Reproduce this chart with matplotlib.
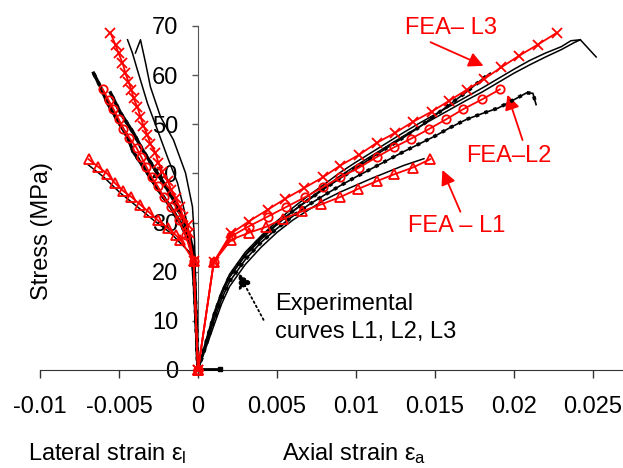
import matplotlib
matplotlib.use("Agg")
import matplotlib.pyplot as plt

plt.rcParams['font.family'] = ['Liberation Sans', 'DejaVu Sans']
plt.rcParams['mathtext.default'] = 'regular'

# ---- data (strain, stress in MPa) ----
# FEA curves, axial side
fea_l3_ax_x = [0, 0.001, 0.0021, 0.0032, 0.0044, 0.0055, 0.0067, 0.0079, 0.0090, 0.0102, 0.0113,
               0.0125, 0.0136, 0.0148, 0.0159, 0.0170, 0.0181, 0.0192, 0.0203, 0.0215, 0.0227]
fea_l3_ax_y = [0, 22, 27.8, 30.2, 32.6, 34.8, 37, 39.2, 41.6, 43.8, 46.2,
               48.3, 50.5, 52.6, 54.8, 57, 59.2, 61.6, 63.9, 66.2, 68.6]
fea_l2_ax_x = [0, 0.001, 0.0021, 0.0032, 0.0044, 0.0056, 0.0068, 0.0079, 0.0090, 0.0102, 0.0113,
               0.0124, 0.0135, 0.0146, 0.0157, 0.0168, 0.0180, 0.0191]
fea_l2_ax_y = [0, 22, 27.2, 29.2, 31.2, 33.2, 35.2, 37.2, 39.2, 41.2, 43.3,
               45.3, 47.1, 49, 51, 53.1, 55.1, 57.1]
fea_l1_ax_x = [0, 0.001, 0.0021, 0.0032, 0.0043, 0.0054, 0.0066, 0.0078, 0.0090, 0.0101, 0.0113,
               0.0124, 0.0136, 0.0147]
fea_l1_ax_y = [0, 22, 26.5, 27.9, 29.1, 30.8, 32.3, 33.7, 35.2, 36.8, 38.4, 39.8, 41.2, 42.9]

# FEA curves, lateral side
fea_l3_lat_x = [0, -0.00028, -0.0006, -0.00066, -0.00092, -0.00117, -0.00142, -0.00168, -0.00193,
                -0.00225, -0.0025, -0.00269, -0.00301, -0.0032, -0.00345, -0.00364, -0.00383,
                -0.00408, -0.00421, -0.0044, -0.00459, -0.00478, -0.00503, -0.00522, -0.00554]
fea_l3_lat_y = [0, 22.2, 27.9, 29.5, 31.1, 33.2, 35, 36.6, 38.5, 40.3, 42.1, 44.2, 46, 47.8, 49.7,
                51.5, 53.5, 55.3, 57, 58.6, 60.4, 62.5, 64.5, 66.1, 68.6]
fea_l2_lat_x = [0, -0.00028, -0.00079, -0.00123, -0.00174, -0.00218, -0.00256, -0.00294, -0.00326,
                -0.00358, -0.00389, -0.00434, -0.00472, -0.00503, -0.00535, -0.00566, -0.00604]
fea_l2_lat_y = [0, 22.2, 27.5, 30.5, 33.2, 35.2, 37.4, 39.3, 41.3, 43.3, 45.2, 47.2, 49, 51.1,
                53.1, 54.9, 57.2]
fea_l1_lat_x = [0, -0.00028, -0.00111, -0.00142, -0.00193, -0.00256, -0.00313, -0.00364, -0.00421,
                -0.00472, -0.00528, -0.00573, -0.0063, -0.00693]
fea_l1_lat_y = [0, 22.2, 26.5, 27.5, 28.9, 30.5, 32.2, 33.6, 35.2, 36.4, 38.1, 39.9, 41.3, 42.9]

# experimental curves, axial side
exp_ax_a_x = [0, 0.0005, 0.001, 0.0015, 0.002, 0.003, 0.004, 0.005, 0.006, 0.007, 0.008, 0.009,
              0.010, 0.011, 0.012, 0.013, 0.014, 0.015, 0.016, 0.017, 0.018, 0.019, 0.020, 0.021,
              0.022, 0.023, 0.0236, 0.0242, 0.0252]
exp_ax_a_y = [0, 6, 11.5, 16, 19.5, 24, 27.3, 30.3, 33, 35.5, 37.8, 40.2, 42.3, 44.3, 46.3, 48.3,
              50.2, 52, 53.8, 55.6, 57.4, 59.3, 61.2, 63, 64.5, 65.8, 67, 67.2, 63.7]
exp_ax_b_x = [0, 0.0005, 0.001, 0.0015, 0.002, 0.003, 0.004, 0.005, 0.006, 0.007, 0.008, 0.009,
              0.010, 0.011, 0.012, 0.013, 0.014, 0.015, 0.016, 0.017, 0.018, 0.019, 0.020, 0.021,
              0.022, 0.023, 0.0238, 0.0242]
exp_ax_b_y = [0, 5.6, 11, 15.4, 18.9, 23.3, 26.6, 29.6, 32.3, 34.8, 37.1, 39.5, 41.6, 43.6, 45.6,
              47.6, 49.5, 51.3, 53.1, 54.9, 56.6, 58.5, 60.4, 62.1, 63.7, 65.2, 66.6, 67.2]
exp_ax_dot1_x = [0, 0.0005, 0.001, 0.0015, 0.002, 0.003, 0.004, 0.005, 0.006, 0.007, 0.008, 0.009,
                 0.010, 0.011, 0.012, 0.013, 0.014, 0.015, 0.016, 0.017, 0.018, 0.0185]
exp_ax_dot1_y = [0, 5.5, 11, 15.5, 19, 23.5, 27, 29.8, 32.3, 34.6, 36.9, 39, 41.1, 43.2, 45.3,
                 47.3, 49.4, 51.8, 54.2, 56.6, 59.2, 60.4]
exp_ax_dot2_x = [0, 0.0005, 0.001, 0.0015, 0.002, 0.003, 0.004, 0.005, 0.006, 0.007, 0.008, 0.009,
                 0.010, 0.011, 0.012, 0.013, 0.014, 0.015, 0.016, 0.017, 0.018, 0.019, 0.020,
                 0.0208, 0.0212, 0.0214]
exp_ax_dot2_y = [0, 5, 10, 14.5, 18, 22.5, 26, 28.8, 31.3, 33.6, 35.6, 37.5, 39.3, 41, 42.7, 44.4,
                 46, 47.6, 49.4, 51, 52.2, 53.3, 55, 56.4, 56.3, 54]
exp_ax_l1_x = [0, 0.0005, 0.001, 0.0015, 0.002, 0.003, 0.004, 0.005, 0.006, 0.007, 0.008, 0.009,
               0.010, 0.011, 0.012, 0.013, 0.0143]
exp_ax_l1_y = [0, 4.5, 9, 13.5, 17, 21.5, 25, 28, 30.5, 32.6, 34.6, 36.2, 37.6, 39, 40.3, 41.6, 43]
exp_tail_x = [0, 0.0014]
exp_tail_y = [0.3, 0.3]

# experimental curves, lateral side
exp_lat_a_x = [0, -0.0001, -0.00022, -0.00035, -0.0006, -0.00111, -0.00174, -0.0025, -0.0032,
               -0.0041, -0.00446, -0.0051, -0.00573, -0.00617, -0.00661]
exp_lat_a_y = [0, 8.1, 16.3, 23.8, 26.5, 29.9, 33.2, 36.6, 40.1, 44.4, 47.4, 50.9, 54.3, 57.6, 60.4]
exp_lat_b_x = [0, -0.00016, -0.00028, -0.00047, -0.00092, -0.00155, -0.00218, -0.00282, -0.00351,
               -0.00408, -0.0049, -0.00554]
exp_lat_b_y = [0, 14.2, 23.4, 26.5, 30.5, 34.6, 38.1, 41.3, 44.8, 48.2, 52.3, 56.4]
exp_lat_l1_x = [0, -0.0001, -0.00028, -0.00047, -0.00111, -0.00174, -0.00282, -0.00383, -0.00491,
                -0.00598, -0.00693]
exp_lat_l1_y = [0, 8.1, 18.3, 23.8, 25.8, 27.9, 30.5, 33.2, 36, 39.3, 41.7]
exp_lat_r_x = [0, -0.0001, -0.00016, -0.00022, -0.00035, -0.00079, -0.00155, -0.00237, -0.00301,
               -0.00332, -0.00364, -0.00396]
exp_lat_r_y = [0, 8.1, 18.3, 26.5, 33.2, 40.1, 46.8, 51.5, 57.6, 62.5, 67.2, 64.5]
exp_lat_l_x = [0, -0.00022, -0.00035, -0.0006, -0.00092, -0.0013, -0.00193, -0.00256, -0.0032,
               -0.00383, -0.00415, -0.00446]
exp_lat_l_y = [0, 16.3, 24.4, 28.5, 33.2, 38.1, 43.3, 48.8, 54.3, 61, 64.5, 67.2]

xticks = [-0.01, -0.005, 0, 0.005, 0.01, 0.015, 0.02, 0.025]
xtick_labels = ['-0.01', '-0.005', '0', '0.005', '0.01', '0.015', '0.02', '0.025']
yticks = [0, 10, 20, 30, 40, 50, 60, 70]

FS = 17
W, H = 623, 468
fig = plt.figure(figsize=(W / 100, H / 100), dpi=100)
ax = fig.add_axes([40 / W, 98 / H, 583 / W, 344 / H])
ax.set_xlim(-0.01, 0.0269)
ax.set_ylim(0, 70)

# experimental (black)
thin = dict(color='black', lw=1.1, zorder=2, clip_on=False)
for xs, ys in [(exp_ax_a_x, exp_ax_a_y), (exp_ax_b_x, exp_ax_b_y), (exp_ax_l1_x, exp_ax_l1_y),
               (exp_lat_l1_x, exp_lat_l1_y), (exp_lat_r_x, exp_lat_r_y), (exp_lat_l_x, exp_lat_l_y)]:
    ax.plot(xs, ys, **thin)

for xs, ys, w in [(exp_ax_dot1_x, exp_ax_dot1_y, 1.2), (exp_ax_dot2_x, exp_ax_dot2_y, 1.2),
                  (exp_lat_a_x, exp_lat_a_y, 2.4), (exp_lat_b_x, exp_lat_b_y, 2.4)]:
    ax.plot(xs, ys, color='black', lw=w, zorder=2)
    ax.plot(xs, ys, color='black', lw=2.6, ls=(0, (1, 1.6)), dash_capstyle='butt', zorder=4)
ax.plot(exp_tail_x, exp_tail_y, color='black', lw=2, marker='s', ms=3, markevery=[1],
        zorder=4, clip_on=False)

# FEA (red)
red = dict(color='red', lw=1.3, mew=1.3, zorder=5, clip_on=False)
for xs, ys in [(fea_l3_ax_x, fea_l3_ax_y), (fea_l3_lat_x, fea_l3_lat_y)]:
    ax.plot(xs, ys, marker='x', ms=7, **red)
for xs, ys in [(fea_l2_ax_x, fea_l2_ax_y), (fea_l2_lat_x, fea_l2_lat_y)]:
    ax.plot(xs, ys, marker='o', ms=6, mfc='none', **red)
for xs, ys in [(fea_l1_ax_x, fea_l1_ax_y), (fea_l1_lat_x, fea_l1_lat_y)]:
    ax.plot(xs, ys, marker='^', ms=6.5, mfc='none', **red)

# annotations
arr = dict(arrowstyle='-|>', color='red', lw=1.3, mutation_scale=22, shrinkA=0, shrinkB=0)
ax.annotate('', xy=(0.01807, 61.9), xytext=(0.01472, 66.7), arrowprops=arr, annotation_clip=False)
ax.annotate('', xy=(0.01959, 56.0), xytext=(0.02054, 46.8), arrowprops=arr)
ax.annotate('', xy=(0.01547, 40.7), xytext=(0.01661, 32.2), arrowprops=arr)
ax.text(0.0160, 69.6, 'FEA– L3', color='red', fontsize=FS, ha='center', va='center')
ax.text(0.01965, 43.5, 'FEA–L2', color='red', fontsize=FS, ha='center', va='center')
ax.text(0.01636, 29.4, 'FEA – L1', color='red', fontsize=FS, ha='center', va='center')

ax.annotate('', xy=(0.00256, 19.7), xytext=(0.00415, 10.2),
            arrowprops=dict(arrowstyle='-|>', color='black', lw=1.3, ls=':',
                            mutation_scale=22, shrinkA=0, shrinkB=0))
ax.text(0.0049, 12.2, 'Experimental', fontsize=FS, ha='left', va='baseline')
ax.text(0.0049, 6.5, 'curves L1, L2, L3', fontsize=FS, ha='left', va='baseline')

# axes styling
for s in ['top', 'right']:
    ax.spines[s].set_visible(False)
ax.spines['left'].set_position(('data', 0))
ax.spines['left'].set_color('#555555')
ax.spines['bottom'].set_color('#333333')
ax.set_xticks(xticks)
ax.set_xticklabels(xtick_labels)
ax.set_yticks(yticks)
ax.tick_params(axis='x', direction='out', length=6, width=1, pad=13, labelsize=FS, color='#333333')
ax.tick_params(axis='y', direction='out', length=4.3, width=1, pad=10, labelsize=FS, color='#555555')

fig.text(42 / W, 1 - 231 / H, 'Stress (MPa)', rotation=90, fontsize=FS, ha='center', va='center')
fig.text(28 / W, 1 - 460 / H, 'Lateral strain ε$_l$', fontsize=FS, ha='left', va='baseline')
fig.text(282 / W, 1 - 460 / H, 'Axial strain ε$_a$', fontsize=FS, ha='left', va='baseline')

fig.savefig('out.png', dpi=100)
